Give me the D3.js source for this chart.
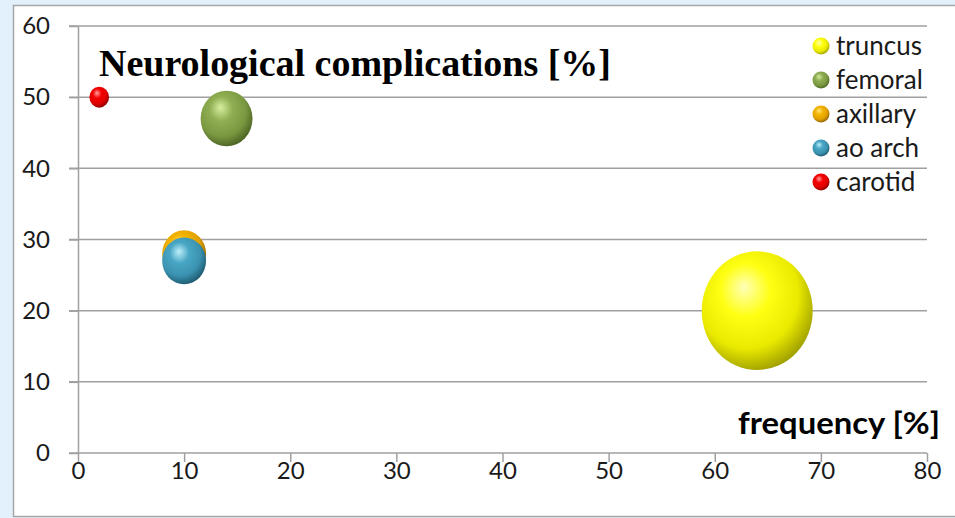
<!DOCTYPE html>
<html>
<head>
<meta charset="utf-8">
<script src="https://cdn.jsdelivr.net/npm/d3@7"></script>
<style>
  html, body { margin: 0; padding: 0; background: #e2f1fb; }
  svg { display: block; }
</style>
</head>
<body>
<svg id="chart" width="955" height="518"></svg>
<script>
// Series: frequency (x), neurological complications (y), bubble size
const seriesNames = ["truncus", "femoral", "axillary", "ao arch", "carotid"];
const frequency   = [64, 14, 10, 10, 2];
const complications = [20, 47, 28, 27, 50];
const bubbleSize  = [64, 14, 10, 10, 2];
const xTicks = [0, 10, 20, 30, 40, 50, 60, 70, 80];
const yTicks = [0, 10, 20, 30, 40, 50, 60];

// sphere shading: highlight, base, mid-shadow, shadow
const palette = [
  ["#ffffb8", "#ffff14", "#eaea00", "#a0a000"],
  ["#d6ee9e", "#90ae52", "#7a9840", "#4c6424"],
  ["#ffe680", "#f4b400", "#e0a000", "#906000"],
  ["#bdeefb", "#48a6c4", "#3a92b0", "#1e5a70"],
  ["#ffa0a0", "#f40000", "#e00000", "#880000"]
];

const svg = d3.select("#chart");
const W = 955, H = 518;

// white chart panel
svg.append("rect")
  .attr("x", 13.5).attr("y", 5.5)
  .attr("width", W).attr("height", H - 7)
  .attr("fill", "#ffffff")
  .attr("stroke", "#a6a6a6").attr("stroke-width", 1.5);

const x = d3.scaleLinear().domain([0, 80]).range([78, 927]);
const y = d3.scaleLinear().domain([0, 60]).range([453, 26]);
const r = d3.scaleSqrt().domain([0, 64]).range([0, 55.5]);

// sphere gradients, lit from the upper left
const defs = svg.append("defs");
palette.forEach((c, i) => {
  const g = defs.append("radialGradient")
    .attr("id", "sph" + i)
    .attr("cx", "42%").attr("cy", "38%").attr("r", "64%")
    .attr("fx", "38%").attr("fy", "30%");
  g.append("stop").attr("offset", "0%").attr("stop-color", c[0]);
  g.append("stop").attr("offset", "35%").attr("stop-color", c[1]);
  g.append("stop").attr("offset", "72%").attr("stop-color", c[2]);
  g.append("stop").attr("offset", "100%").attr("stop-color", c[3]);
});

const gridColor = "#a0a0a0";
const tickFont = "Lato, 'Open Sans', sans-serif";

// horizontal gridlines with left tick stubs
svg.append("g").selectAll("line")
  .data(yTicks.filter(d => d > 0))
  .join("line")
  .attr("x1", 69).attr("x2", 927)
  .attr("y1", d => y(d)).attr("y2", d => y(d))
  .attr("stroke", gridColor).attr("stroke-width", 1.5);

// x axis (bottom) with downward ticks
const xAxis = svg.append("g").attr("transform", `translate(0,${y(0)})`)
  .call(d3.axisBottom(x).tickValues(xTicks).tickSize(9).tickPadding(0).tickSizeOuter(0));
xAxis.select(".domain").attr("stroke", gridColor).attr("stroke-width", 1.5)
  .attr("d", `M69,0H${x(80)}`);
xAxis.selectAll(".tick line").attr("stroke", gridColor).attr("stroke-width", 1.5);
xAxis.selectAll(".tick text")
  .attr("font-family", tickFont)
  .attr("font-size", 24).attr("fill", "#1a1a1a");

// y axis line with labels
const yAxis = svg.append("g").attr("transform", `translate(${x(0)},0)`)
  .call(d3.axisLeft(y).tickValues(yTicks).tickSize(9).tickPadding(19).tickSizeOuter(0));
yAxis.select(".domain").attr("stroke", gridColor).attr("stroke-width", 1.5);
yAxis.selectAll(".tick line").attr("stroke", gridColor).attr("stroke-width", 1.5);
yAxis.selectAll(".tick text")
  .attr("font-family", tickFont)
  .attr("font-size", 24).attr("fill", "#1a1a1a");

// bubbles
const data = seriesNames.map((n, i) => ({
  name: n, fx: frequency[i], cy: complications[i], s: bubbleSize[i], i
}));
svg.append("g").selectAll("ellipse")
  .data(data)
  .join("ellipse")
  .attr("cx", d => x(d.fx))
  .attr("cy", d => y(d.cy))
  .attr("rx", d => r(d.s))
  .attr("ry", d => r(d.s) * 1.07)
  .attr("fill", d => `url(#sph${d.i})`);

// title inside plot
svg.append("text")
  .attr("x", 99).attr("y", 76)
  .attr("font-family", "'Liberation Serif', 'DejaVu Serif', serif")
  .attr("font-weight", "bold").attr("font-size", 38)
  .attr("textLength", 512).attr("lengthAdjust", "spacingAndGlyphs")
  .attr("fill", "#000")
  .text("Neurological complications [%]");

// x axis title
svg.append("text")
  .attr("x", 940).attr("y", 434)
  .attr("text-anchor", "end")
  .attr("font-family", tickFont)
  .attr("font-weight", "bold").attr("font-size", 30)
  .attr("textLength", 202).attr("lengthAdjust", "spacingAndGlyphs")
  .attr("fill", "#000")
  .text("frequency [%]");

// legend
const legend = svg.append("g");
const lg = legend.selectAll("g").data(data).join("g")
  .attr("transform", (d, i) => `translate(821,${46 + i * 34})`);
lg.append("circle").attr("r", 8.5).attr("fill", d => `url(#sph${d.i})`);
lg.append("text")
  .attr("x", 15).attr("y", 8.5)
  .attr("font-family", tickFont)
  .attr("font-size", 26).attr("fill", "#1a1a1a")
  .text(d => d.name);
</script>
</body>
</html>
